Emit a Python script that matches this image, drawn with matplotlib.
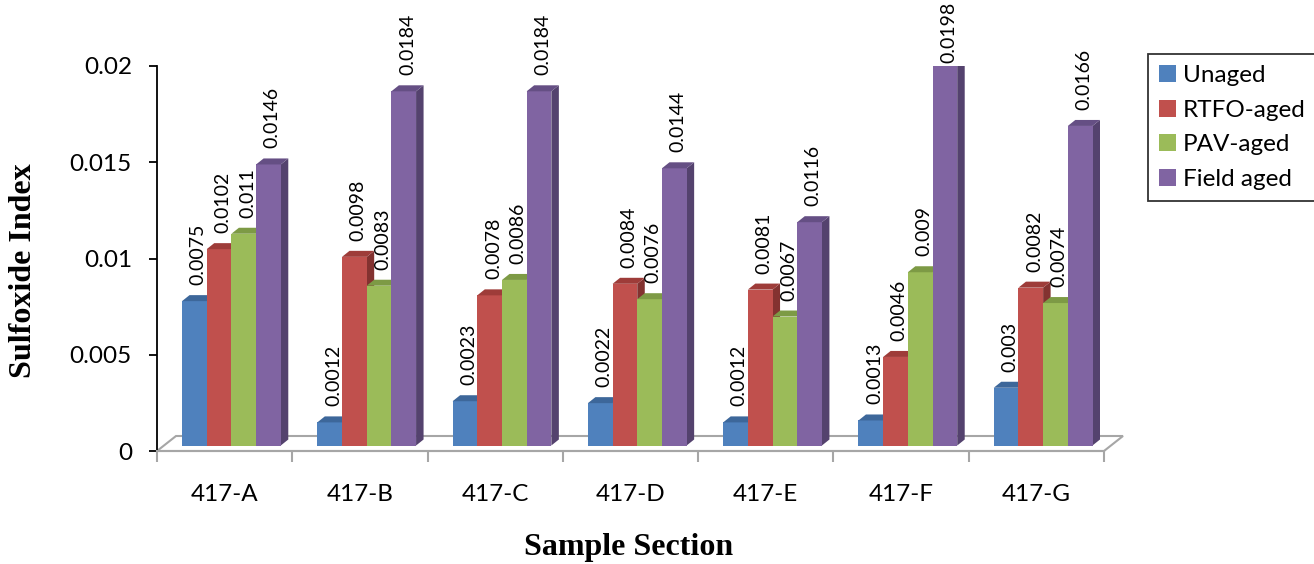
import numpy as np
import matplotlib
matplotlib.use('Agg')
import matplotlib.pyplot as plt
from matplotlib.patches import Polygon, Patch

# data
sections = ['417-A', '417-B', '417-C', '417-D', '417-E', '417-F', '417-G']
series = ['Unaged', 'RTFO-aged', 'PAV-aged', 'Field aged']
unaged = [0.0075, 0.0012, 0.0023, 0.0022, 0.0012, 0.0013, 0.003]
rtfo = [0.0102, 0.0098, 0.0078, 0.0084, 0.0081, 0.0046, 0.0082]
pav = [0.011, 0.0083, 0.0086, 0.0076, 0.0067, 0.009, 0.0074]
field = [0.0146, 0.0184, 0.0184, 0.0144, 0.0116, 0.0198, 0.0166]
yticks = [0, 0.005, 0.01, 0.015, 0.02]
ytick_labels = ['0', '0.005', '0.01', '0.015', '0.02']

front = ['#4F81BD', '#C0504D', '#9BBB59', '#8064A2']
top = ['#3D679A', '#9E3C39', '#7D9A45', '#654F84']
side = ['#33557F', '#833230', '#667E38', '#54426E']

W, H = 1314, 564
fig = plt.figure(figsize=(W / 100, H / 100), dpi=100)
plt.rcParams['font.family'] = ['Lato', 'DejaVu Sans']

# axes box in pixels: x 157..1104, y 66..451
ax = fig.add_axes([157 / W, (H - 451) / H, (1104 - 157) / W, (451 - 66) / H])
ax.set_xlim(0, len(sections))
ax.set_ylim(0, 0.02)

sx = len(sections) / (1104 - 157)   # data per pixel
sy = 0.02 / (451 - 66)

# fake 3d floor
fdx, fdy = 19 * sx, 15 * sy
n = len(sections)
floor = Polygon([(0, 0), (n, 0), (n + fdx, fdy), (fdx, fdy)], closed=True,
                facecolor='none', edgecolor='#A6A6A6', lw=1.5, clip_on=False, zorder=1)
ax.add_patch(floor)

values = [unaged, rtfo, pav, field]
w = 0.1825
start = 0.185
b0 = 5.5 * sy
ddx, ddy = 7.5 * sx, 6 * sy
gap = 16 * sy
cap = (451 - 63) * sy

for i in range(n):
    for j, vals in enumerate(values):
        v = vals[i]
        x0 = i + start + j * w
        t = b0 + v
        z = 3 + j * 0.1
        ax.bar(x0, v, width=w, bottom=b0, align='edge', color=front[j],
               edgecolor='none', zorder=z + 0.05)
        ax.add_patch(Polygon([(x0, t), (x0 + w, t), (x0 + w + ddx, t + ddy), (x0 + ddx, t + ddy)],
                             closed=True, facecolor=top[j], edgecolor='none', zorder=z + 0.05))
        ax.add_patch(Polygon([(x0 + w, b0), (x0 + w + ddx, b0 + ddy), (x0 + w + ddx, t + ddy), (x0 + w, t)],
                             closed=True, facecolor=side[j], edgecolor='none', zorder=z))
        ax.text(x0 + w / 2 + ddx / 2, min(t + gap, cap), f'{v:g}', rotation=90,
                ha='center', va='bottom', fontsize=14, clip_on=False, zorder=10)

for s in ['top', 'right']:
    ax.spines[s].set_visible(False)
ax.spines['left'].set_color('black')
ax.spines['left'].set_linewidth(1.3)
ax.spines['bottom'].set_color('#A6A6A6')
ax.spines['bottom'].set_linewidth(1.5)

ax.set_yticks(yticks)
ax.set_yticklabels(ytick_labels)
ax.tick_params(axis='y', direction='out', length=6, width=1.3, color='black',
               labelsize=17.5, pad=12)

ax.set_xticks(np.arange(n + 1))
ax.set_xticklabels([])
ax.set_xticks(np.arange(n) + 0.5, minor=True)
ax.set_xticklabels(sections, minor=True)
ax.tick_params(axis='x', which='major', direction='out', length=8, width=1.5, color='#A6A6A6')
ax.tick_params(axis='x', which='minor', length=0, labelsize=17.5, pad=24)

fig.text(24 / W, 1 - 271 / H, 'Sulfoxide Index', rotation=90, ha='center', va='center',
         fontsize=23, fontweight='bold', family='Liberation Serif')
fig.text(629 / W, 1 - 548 / H, 'Sample Section', ha='center', va='center',
         fontsize=23, fontweight='bold', family='Liberation Serif')

handles = [Patch(facecolor=front[j], edgecolor='none', label=series[j]) for j in range(4)]
leg = fig.legend(handles=handles, loc='upper left', bbox_to_anchor=(1148 / W, 1 - 54 / H),
                 fontsize=17.5, frameon=True, fancybox=False, edgecolor='black',
                 handlelength=0.7, handleheight=0.7, handletextpad=0.3,
                 labelspacing=0.56, borderpad=0.45, borderaxespad=0)
leg.get_frame().set_linewidth(1.3)

fig.savefig('out.png', dpi=100)
